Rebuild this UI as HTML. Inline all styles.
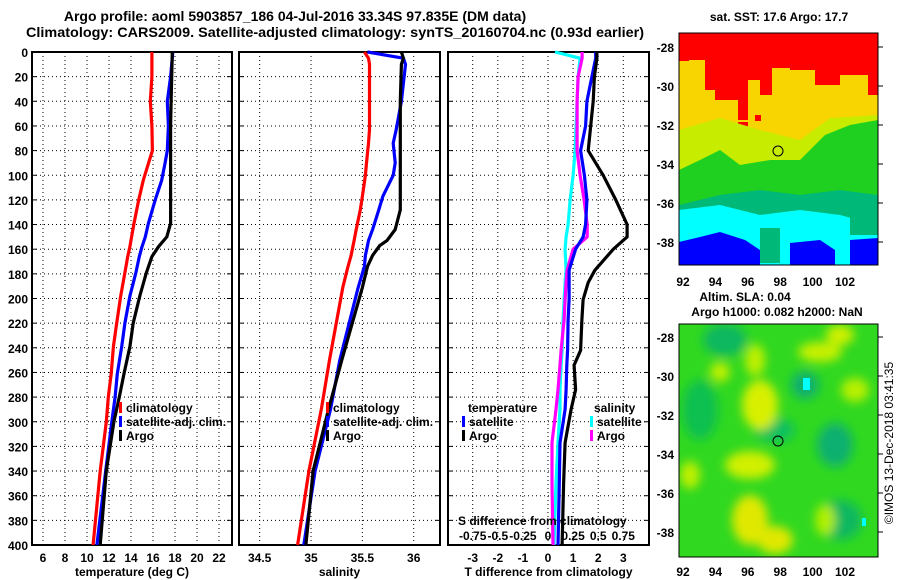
<!DOCTYPE html>
<html><head><meta charset="utf-8"><style>
html,body{margin:0;padding:0;background:#fff;}
svg{display:block;font-family:"Liberation Sans",sans-serif;font-weight:bold;}
</style></head><body>
<svg id="c" width="900" height="580" viewBox="0 0 900 580" xmlns="http://www.w3.org/2000/svg">
<defs>
<filter id="bl" x="-50%" y="-50%" width="200%" height="200%"><feGaussianBlur stdDeviation="5"/></filter>
<clipPath id="cm1"><rect x="679" y="33" width="199" height="232"/></clipPath>
<clipPath id="cm2"><rect x="679" y="324" width="199" height="233"/></clipPath>
</defs>
<text x="295" y="21" font-size="14" text-anchor="middle">Argo profile: aoml 5903857_186 04-Jul-2016 33.34S 97.835E (DM data)</text>
<text x="335" y="37" font-size="14" text-anchor="middle" textLength="618" lengthAdjust="spacingAndGlyphs">Climatology: CARS2009. Satellite-adjusted climatology: synTS_20160704.nc (0.93d earlier)</text>

<!-- top map -->
<g clip-path="url(#cm1)">
<rect x="679" y="33" width="199" height="232" fill="#f8d400"/>
<path d="M679,33H878V95H868V75H840V85H815V70H790V68H772V95H760V80H748V120H738V100H715V90H705V60H690V60H679Z" fill="#ff0000"/>
<rect x="679" y="33" width="10" height="28" fill="#ff0000"/>
<rect x="738" y="122" width="10" height="12" fill="#ff0000"/>
<rect x="755" y="115" width="6" height="6" fill="#ff0000"/>
<path d="M679,130 L720,118 L760,130 L800,140 L830,118 L878,115 V265 H679Z" fill="#c8ec00"/>
<path d="M679,170 L700,160 L720,150 L740,165 L770,160 L800,160 L825,135 L850,125 L878,120 V265 H679Z" fill="#20d020"/>
<path d="M679,205 L720,195 L760,190 L800,195 L840,190 L878,195 V265 H679Z" fill="#00b878"/>
<path d="M679,210 L720,205 L760,215 L800,210 L840,215 L878,225 V265 H679Z" fill="#00ffff"/>
<path d="M679,242 L700,237 L720,232 L745,240 L760,250 V265 H679Z" fill="#0000ff"/>
<path d="M790,243 L820,240 L835,250 L835,265 L790,265Z" fill="#0000ff"/>
<path d="M850,240 L878,238 V265 H850Z" fill="#0000ff"/>
<rect x="760" y="228" width="20" height="35" fill="#00b878"/>
<rect x="850" y="215" width="28" height="20" fill="#00b878"/>
</g>
<rect x="679" y="33" width="199" height="232" fill="none" stroke="#000" stroke-width="1"/>
<circle cx="778" cy="151" r="5" fill="none" stroke="#000" stroke-width="1"/>
<text x="779" y="21" font-size="12" text-anchor="middle">sat. SST: 17.6 Argo: 17.7</text>

<!-- bottom map -->
<g clip-path="url(#cm2)">
<rect x="679" y="324" width="199" height="233" fill="#30d820"/>
<g filter="url(#bl)">
<ellipse cx="725" cy="340" rx="22" ry="16" fill="#10b860"/>
<ellipse cx="700" cy="410" rx="18" ry="30" fill="#10c050"/>
<ellipse cx="835" cy="445" rx="18" ry="22" fill="#10b070"/>
<ellipse cx="805" cy="385" rx="14" ry="14" fill="#10b070"/>
<ellipse cx="840" cy="520" rx="22" ry="20" fill="#10b860"/>
<ellipse cx="775" cy="430" rx="20" ry="12" fill="#10c060"/>
<ellipse cx="760" cy="405" rx="18" ry="25" fill="#d8f000"/>
<ellipse cx="755" cy="360" rx="10" ry="16" fill="#c0f000"/>
<ellipse cx="750" cy="465" rx="25" ry="14" fill="#d0f000"/>
<ellipse cx="750" cy="520" rx="18" ry="25" fill="#e0e800"/>
<ellipse cx="775" cy="540" rx="18" ry="14" fill="#e0e800"/>
<ellipse cx="720" cy="372" rx="10" ry="10" fill="#c0f000"/>
<ellipse cx="820" cy="352" rx="22" ry="10" fill="#c8f000"/>
<ellipse cx="840" cy="335" rx="14" ry="10" fill="#d0f000"/>
<ellipse cx="855" cy="390" rx="14" ry="12" fill="#b8f000"/>
<ellipse cx="690" cy="475" rx="10" ry="14" fill="#c0f000"/>
<ellipse cx="825" cy="520" rx="10" ry="16" fill="#b0f000"/>
</g>
<rect x="803" y="378" width="7" height="12" fill="#00ffff"/>
<rect x="862" y="518" width="4" height="8" fill="#00ffff"/>
</g>
<rect x="679" y="324" width="199" height="233" fill="none" stroke="#000" stroke-width="1"/>
<circle cx="778" cy="441" r="5" fill="none" stroke="#000" stroke-width="1"/>
<text x="745" y="301" font-size="12" text-anchor="middle">Altim. SLA: 0.04</text>
<text x="777" y="316" font-size="12" text-anchor="middle">Argo h1000: 0.082 h2000: NaN</text>
<text transform="translate(893,443) rotate(-90)" font-size="12" font-weight="normal" text-anchor="middle">©IMOS 13-Dec-2018 03:41:35</text>

<g id="plots"></g>
</svg>
<script>
// ---- data ----
const tDepth = [0,20,40,60,80,90,104,120,139,150,158,166,179,198,220,239,261,280,300,340,400];
const tClim  = [15.9,15.9,15.75,15.9,15.95,15.6,15.12,14.7,14.27,14.05,13.9,13.7,13.45,13.06,12.7,12.4,12.2,11.94,11.75,11.2,10.55];
const tSat   = [17.8,17.6,17.3,17.4,17.3,17.1,16.79,16.2,15.58,15.3,15.0,14.75,14.45,13.9,13.45,13.15,12.75,12.55,12.25,11.7,10.9];
const tArgo  = [17.75,17.7,17.65,17.6,17.6,17.6,17.6,17.6,17.6,17.25,16.5,15.9,15.4,14.8,14.2,13.9,13.36,12.94,12.45,11.75,11.2];

const sDepth = [0,5,10,40,63,74,90,100,117,128,144,153,157,165,174,191,250,290,340,400];
const sClim  = [35.52,35.56,35.57,35.57,35.57,35.56,35.54,35.53,35.5,35.48,35.44,35.42,35.41,35.39,35.36,35.31,35.18,35.1,34.98,34.87];
const sSat   = [35.55,35.9,35.92,35.88,35.83,35.8,35.82,35.8,35.7,35.66,35.6,35.56,35.55,35.53,35.52,35.46,35.28,35.19,35.04,34.93];
const sArgo  = [35.88,35.9,35.88,35.87,35.87,35.87,35.87,35.87,35.87,35.87,35.82,35.74,35.67,35.6,35.55,35.5,35.3,35.17,35.02,34.95];

const dDepth   = [0,5,20,40,60,80,100,120,140,150,160,177,187,201,217,242,254,274,290,317,350,400];
const dtArgo   = [1.95,1.95,1.85,1.8,1.7,1.6,2.2,2.7,3.15,3.15,2.6,1.87,1.6,1.4,1.35,1.3,1.04,1.1,0.92,0.68,0.62,0.56];
const dtSat    = [1.9,1.9,1.75,1.55,1.5,1.3,1.45,1.55,1.5,1.4,1.1,0.84,0.84,0.84,0.8,0.78,0.75,0.72,0.68,0.48,0.45,0.4];
const dsSat    = [0.07,0.32,0.3,0.29,0.28,0.27,0.25,0.22,0.2,0.18,0.17,0.18,0.17,0.16,0.15,0.14,0.13,0.12,0.12,0.1,0.08,0.06];
const dsArgo   = [0.34,0.34,0.3,0.29,0.29,0.29,0.32,0.36,0.39,0.39,0.25,0.19,0.18,0.17,0.16,0.13,0.12,0.1,0.08,0.04,0.04,0.05];

const depthTicks = [0,20,40,60,80,100,120,140,160,180,200,220,240,260,280,300,320,340,360,380,400];
const tTicks = [6,8,10,12,14,16,18,20,22];
const sTicks = [34.5,35,35.5,36];
const dTicks = [-3,-2,-1,0,1,2,3];
const dsTicks = [-0.75,-0.5,-0.25,0,0.25,0.5,0.75];
const dsTickLabels = ["-0.75","-0.5","-0.25","0","0.25","0.5","0.75"];
const latTicks = [-28,-30,-32,-34,-36,-38];
const lonTicks = [92,94,96,98,100,102];

// ---- scales ----
const Y = d => 52 + d*1.2325;
const XT = t => 43 + (t-6)*11;
const XS = s => 311 + (s-35)*102.7;
const XD = t => 548 + t*25.1;
const XDS = s => 548 + s*100.4;
const latY1 = l => 47 + (-28-l)*19.5;
const latY2 = l => 337 + (-28-l)*19.5;
const lonX = l => 683 + (l-92)*16.2;

const NS = "http://www.w3.org/2000/svg";
const root = document.getElementById('plots');
function mk(tag, attrs, parent){ const e=document.createElementNS(NS,tag); for(const k in attrs) e.setAttribute(k,attrs[k]); (parent||root).appendChild(e); return e; }

const panels = [
  {x0:32,x1:232,name:'temperature-panel',ticks:tTicks,fx:XT,labels:tTicks.map(String),title:'temperature (deg C)'},
  {x0:239,x1:440,name:'salinity-panel',ticks:sTicks,fx:XS,labels:sTicks.map(String),title:'salinity'},
  {x0:448,x1:649,name:'difference-panel',ticks:dTicks,fx:XD,labels:dTicks.map(String),title:'T difference from climatology'}
];
panels.forEach((p,pi)=>{
  const g = mk('g',{});
  
  
  depthTicks.forEach(d=>{
    if(d===0||d===400) return;
    const l = mk('line',{x1:p.x0,x2:p.x1,y1:Y(d),y2:Y(d),stroke:'#000','stroke-width':1,'stroke-dasharray':'1 3'},g);
    
    
    mk('line',{x1:p.x0,x2:p.x0+5,y1:Y(d),y2:Y(d),stroke:'#000'},g);
    mk('line',{x1:p.x1-5,x2:p.x1,y1:Y(d),y2:Y(d),stroke:'#000'},g);
  });
  p.ticks.forEach((t,i)=>{
    const x=p.fx(t);
    const l = mk('line',{x1:x,x2:x,y1:52,y2:545,stroke:'#000','stroke-width':1,'stroke-dasharray':'1 3'},g);
    
    
    const tx = mk('text',{x:x,y:562,'font-size':12,'text-anchor':'middle'},g);
    tx.textContent = p.labels[i];
    
    
  });
  const fr = mk('rect',{x:p.x0,y:52,width:p.x1-p.x0,height:493,fill:'none',stroke:'#000','stroke-width':2},g);
  
  
  const tt = mk('text',{x:(p.x0+p.x1)/2,y:576,'font-size':12,'text-anchor':'middle'},g);
  tt.textContent = p.title;
  
  
});
depthTicks.forEach(d=>{
  const tx = mk('text',{x:28,y:Y(d)+5,'font-size':12,'text-anchor':'end'});
  tx.textContent = String(d);
  
  
});

function line(depths, vals, fx, color, name){
  const pts = depths.map((d,i)=>fx(vals[i]).toFixed(1)+','+Y(d).toFixed(1)).join(' ');
  const pl = mk('polyline',{points:pts,fill:'none',stroke:color,'stroke-width':3.2,'stroke-linejoin':'round'});
  
  
}
line(tDepth,tClim,XT,'#ff0000','temp-climatology-line');
line(tDepth,tSat,XT,'#0000ff','temp-satellite-line');
line(tDepth,tArgo,XT,'#000000','temp-argo-line');
line(sDepth,sClim,XS,'#ff0000','sal-climatology-line');
line(sDepth,sSat,XS,'#0000ff','sal-satellite-line');
line(sDepth,sArgo,XS,'#000000','sal-argo-line');
line(dDepth,dsSat,XDS,'#00ffff','sdiff-satellite-line');
line(dDepth,dsArgo,XDS,'#ff00ff','sdiff-argo-line');
line(dDepth,dtSat,XD,'#0000ff','tdiff-satellite-line');
line(dDepth,dtArgo,XD,'#000000','tdiff-argo-line');

// legends
function leg(x,y,color,label,name){
  const g = mk('g',{});
  
  
  mk('rect',{x:x,y:y-10,width:3,height:11,fill:color},g);
  const t = mk('text',{x:x+7,y:y,'font-size':12},g);
  t.textContent = label;
}
leg(119,412,'#ff0000','climatology','legend-climatology');
leg(119,426,'#0000ff','satellite-adj. clim.','legend-satellite');
leg(119,440,'#000000','Argo','legend-argo');
leg(326,412,'#ff0000','climatology','legend-sal-climatology');
leg(326,426,'#0000ff','satellite-adj. clim.','legend-sal-satellite');
leg(326,440,'#000000','Argo','legend-sal-argo');
leg(462,426,'#0000ff','satellite','legend-tdiff-satellite');
leg(462,440,'#000000','Argo','legend-tdiff-argo');
leg(590,426,'#00ffff','satellite','legend-sdiff-satellite');
leg(590,440,'#ff00ff','Argo','legend-sdiff-argo');
[[468,412,'temperature'],[594,412,'salinity'],[458,525,'S difference from climatology']].forEach(a=>{
  const t=mk('text',{x:a[0],y:a[1],'font-size':12});
  t.textContent=a[2];
  
  
});
dsTicks.forEach((s,i)=>{
  const t=mk('text',{x:XDS(s),y:540,'font-size':12,'text-anchor':'middle'});
  t.textContent=dsTickLabels[i];
  
  
});

// map axes
latTicks.forEach(l=>{
  [latY1,latY2].forEach((f,k)=>{
    const y=f(l);
    const t=mk('text',{x:674,y:y+5,'font-size':12,'text-anchor':'end'});
    t.textContent=String(l);
    
    
    mk('line',{x1:878,x2:883,y1:y,y2:y,stroke:'#000'});
  });
});
lonTicks.forEach(l=>{
  [286,576].forEach(y=>{
    const t=mk('text',{x:lonX(l),y:y,'font-size':12,'text-anchor':'middle'});
    t.textContent=String(l);
    
    
  });
});
</script>
</body></html>
